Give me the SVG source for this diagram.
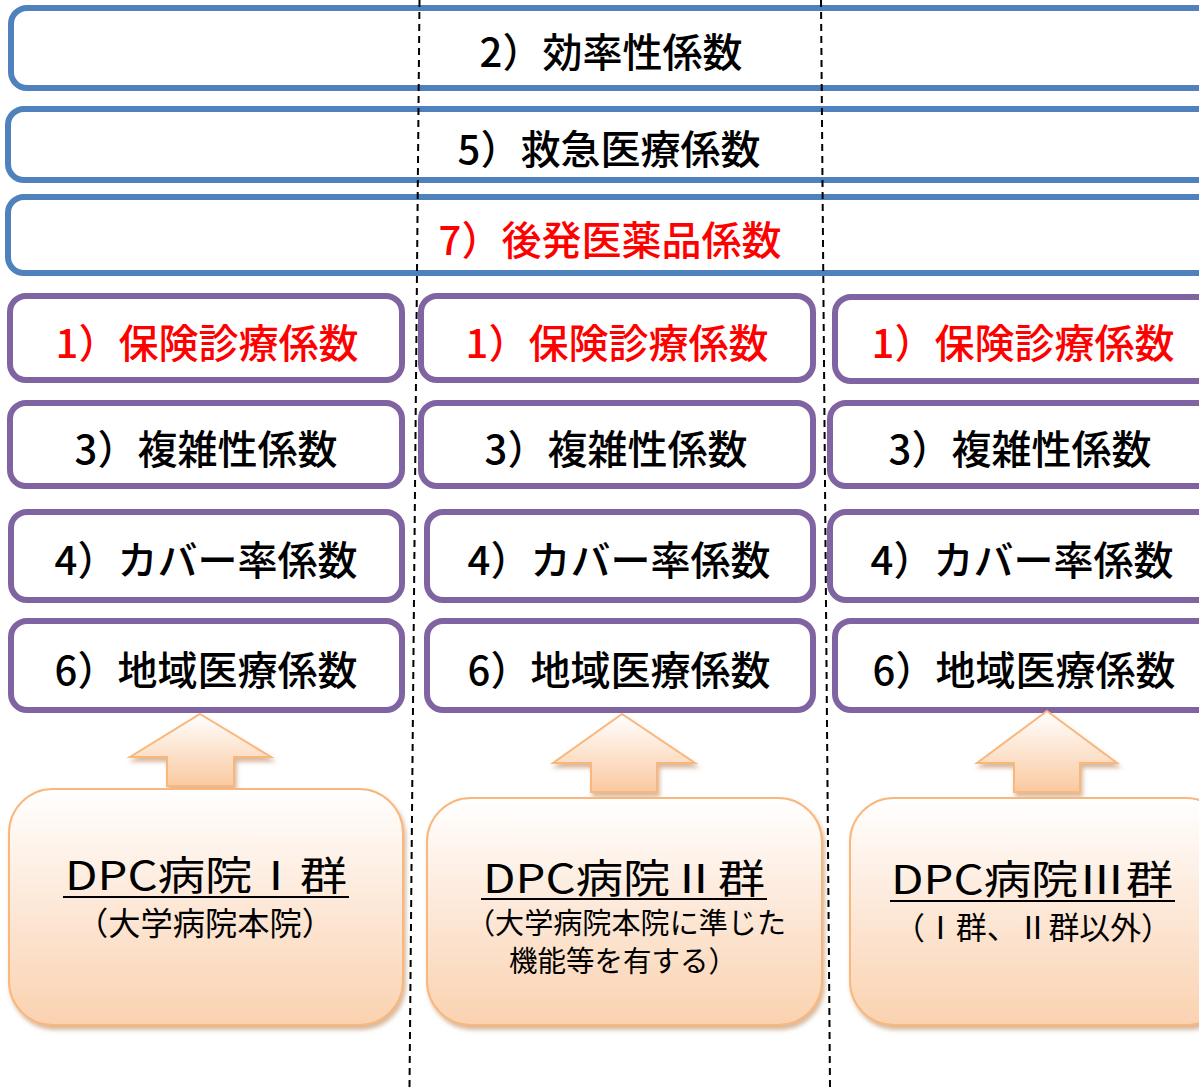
<svg xmlns="http://www.w3.org/2000/svg" width="1199" height="1087" viewBox="0 0 1199 1087">
<defs>
<style>
.blue{fill:#fff;stroke:#4F81BD;stroke-width:6}
.purple{fill:#fff;stroke:#8064A2;stroke-width:6}
.coef{font-family:"Noto Sans CJK JP","Noto Sans",sans-serif;font-size:40px;font-weight:500;fill:#000;text-anchor:middle}
.red{fill:#FF0000}
.grp{fill:url(#og);stroke:#F9B77C;stroke-width:2;filter:url(#sh)}
.arr{fill:url(#ag);stroke:#F9B77C;stroke-width:2;filter:url(#sh)}
.t1{font-family:"Noto Sans CJK JP","Noto Sans",sans-serif;font-size:40px;fill:#000;text-anchor:middle}
.t2{font-family:"Noto Sans CJK JP","Noto Sans",sans-serif;fill:#000;text-anchor:middle}
.ul{stroke:#000;stroke-width:2}
.dash{stroke:#000;stroke-width:2;stroke-dasharray:7 5;fill:none}
</style>
<linearGradient id="og" x1="0" y1="0" x2="0" y2="1">
<stop offset="0" stop-color="#FFFFFF"/>
<stop offset="0.45" stop-color="#FDEADB"/>
<stop offset="1" stop-color="#FAD2B0"/>
</linearGradient>
<linearGradient id="ag" x1="0" y1="0" x2="0" y2="1">
<stop offset="0" stop-color="#FFFFFF"/>
<stop offset="1" stop-color="#FAC9A0"/>
</linearGradient>
<filter id="sh" x="-10%" y="-10%" width="130%" height="130%">
<feDropShadow dx="2" dy="4" stdDeviation="2" flood-color="#B8804F" flood-opacity="0.55"/>
</filter>
</defs>

<g id="efficiency">
<rect class="blue" x="11" y="8" width="1210" height="80" rx="16"/>
<text class="coef" x="611" y="67">2）効率性係数</text>
</g>
<g id="emergency">
<rect class="blue" x="8" y="109" width="1213" height="71" rx="16"/>
<text class="coef" x="609" y="164">5）救急医療係数</text>
</g>
<g id="generic">
<rect class="blue" x="8" y="197" width="1213" height="76" rx="16"/>
<text class="coef red" x="610" y="255">7）後発医薬品係数</text>
</g>

<g id="col1-insurance">
<rect class="purple" x="10" y="296" width="392" height="84" rx="16"/>
<text class="coef red" x="207" y="358">1）保険診療係数</text>
</g>
<g id="col1-complexity">
<rect class="purple" x="10" y="403" width="392" height="83" rx="16"/>
<text class="coef" x="206" y="464">3）複雑性係数</text>
</g>
<g id="col1-coverage">
<rect class="purple" x="11" y="512" width="391" height="88" rx="16"/>
<text class="coef" x="206" y="575">4）カバー率係数</text>
</g>
<g id="col1-regional">
<rect class="purple" x="11" y="621" width="391" height="89" rx="16"/>
<text class="coef" x="206" y="685">6）地域医療係数</text>
</g>

<g id="col2-insurance">
<rect class="purple" x="421" y="296" width="392" height="84" rx="16"/>
<text class="coef red" x="617" y="358">1）保険診療係数</text>
</g>
<g id="col2-complexity">
<rect class="purple" x="421" y="403" width="392" height="83" rx="16"/>
<text class="coef" x="616" y="464">3）複雑性係数</text>
</g>
<g id="col2-coverage">
<rect class="purple" x="427" y="512" width="386" height="88" rx="16"/>
<text class="coef" x="619" y="575">4）カバー率係数</text>
</g>
<g id="col2-regional">
<rect class="purple" x="427" y="621" width="386" height="89" rx="16"/>
<text class="coef" x="619" y="685">6）地域医療係数</text>
</g>

<g id="col3-insurance">
<rect class="purple" x="835" y="297" width="380" height="84" rx="16"/>
<text class="coef red" x="1023" y="358">1）保険診療係数</text>
</g>
<g id="col3-complexity">
<rect class="purple" x="830" y="403" width="385" height="83" rx="16"/>
<text class="coef" x="1020" y="464">3）複雑性係数</text>
</g>
<g id="col3-coverage">
<rect class="purple" x="830" y="512" width="385" height="88" rx="16"/>
<text class="coef" x="1022" y="575">4）カバー率係数</text>
</g>
<g id="col3-regional">
<rect class="purple" x="835" y="621" width="380" height="89" rx="16"/>
<text class="coef" x="1024" y="685">6）地域医療係数</text>
</g>

<g id="connectors">
<polygon class="arr" points="200,714 271,757 234,757 234,786 167,786 167,757 130,757"/>
<polygon class="arr" points="622,714 695,763 657,763 657,792 591,792 591,763 553,763"/>
<polygon class="arr" points="1047,711 1117,763 1080,763 1080,792 1014,792 1014,763 977,763"/>
</g>

<g id="dpc1">
<rect class="grp" x="9" y="789" width="394" height="236" rx="44"/>
<text class="t1" x="206" y="890" textLength="282" lengthAdjust="spacingAndGlyphs">DPC病院Ⅰ群</text>
<line class="ul" x1="63" y1="897" x2="349" y2="897"/>
<text class="t2" x="205" y="935" font-size="32" textLength="258" lengthAdjust="spacingAndGlyphs">（大学病院本院）</text>
</g>
<g id="dpc2">
<rect class="grp" x="427" y="798" width="395" height="227" rx="44"/>
<text class="t1" x="624" y="893" textLength="282" lengthAdjust="spacingAndGlyphs">DPC病院Ⅱ群</text>
<line class="ul" x1="481" y1="899" x2="767" y2="899"/>
<text class="t2" x="626" y="934" font-size="29" textLength="320" lengthAdjust="spacingAndGlyphs">（大学病院本院に準じた</text>
<text class="t2" x="623" y="972" font-size="29" textLength="228" lengthAdjust="spacingAndGlyphs">機能等を有する）</text>
</g>
<g id="dpc3">
<rect class="grp" x="850" y="798" width="380" height="227" rx="44"/>
<text class="t1" x="1032" y="894" textLength="282" lengthAdjust="spacingAndGlyphs">DPC病院Ⅲ群</text>
<line class="ul" x1="890" y1="901" x2="1175" y2="901"/>
<text class="t2" x="1033" y="939" font-size="31" textLength="278" lengthAdjust="spacingAndGlyphs">（Ⅰ群、Ⅱ群以外）</text>
</g>

<g id="dividers">
<line class="dash" x1="419.5" y1="0" x2="409.5" y2="1087"/>
<line class="dash" x1="821" y1="0" x2="830" y2="1087"/>
</g>
</svg>
